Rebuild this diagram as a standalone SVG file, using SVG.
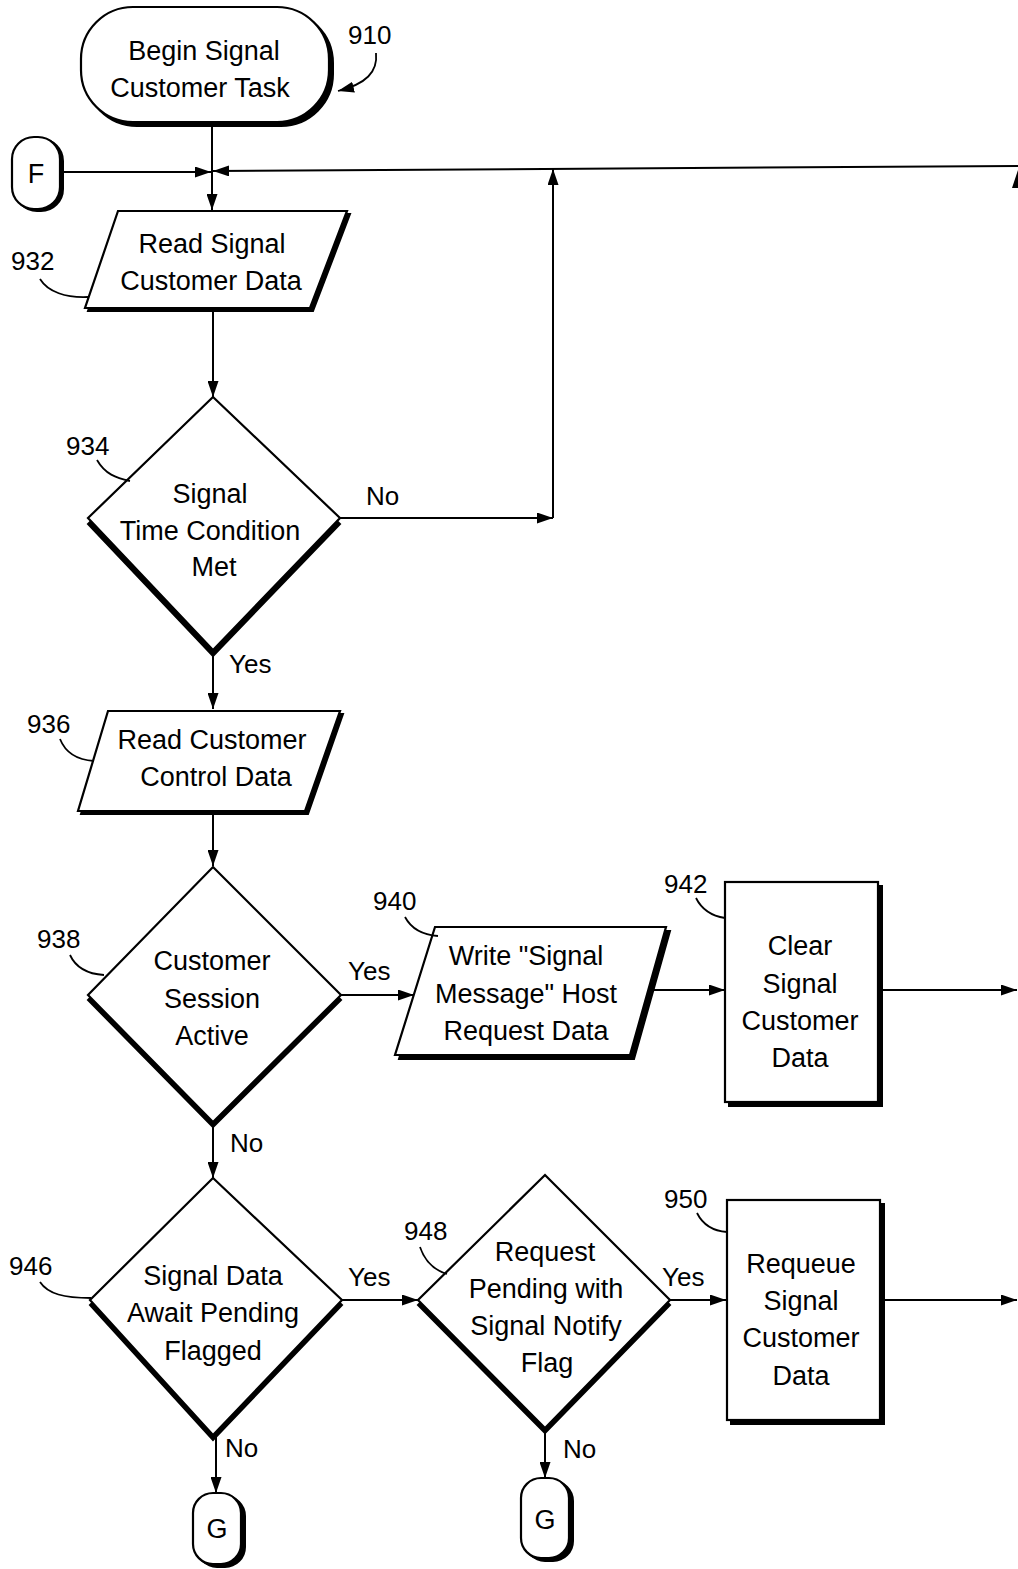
<svg xmlns="http://www.w3.org/2000/svg" width="1018" height="1569" viewBox="0 0 1018 1569">
<style>
.t{font-family:"Liberation Sans",Arial,sans-serif;font-size:27px;fill:#000;text-anchor:middle}
.lb{font-family:"Liberation Sans",Arial,sans-serif;font-size:26px;fill:#000}
.sh{fill:#000;stroke:#000;stroke-width:2}
.nd{fill:#fff;stroke:#000;stroke-width:2.2}
.ln{fill:none;stroke:#000;stroke-width:2}
.ld{fill:none;stroke:#000;stroke-width:1.8}
</style>
<defs>
<marker id="ah" viewBox="0 0 16 11" refX="16" refY="5.5" markerWidth="16" markerHeight="11" markerUnits="userSpaceOnUse" orient="auto">
<path d="M0,0 L16,5.5 L0,11 Z" fill="#000"/>
</marker>
</defs>
<rect width="1018" height="1569" fill="#fff"/>

<g id="connectors">
<line class="ln" x1="212" y1="123" x2="212" y2="210" marker-end="url(#ah)"/>
<line class="ln" x1="62" y1="172" x2="211" y2="172" marker-end="url(#ah)"/>
<line class="ln" x1="1018" y1="166" x2="213" y2="171" marker-end="url(#ah)"/>
<line class="ln" x1="213" y1="308" x2="213" y2="397" marker-end="url(#ah)"/>
<line class="ln" x1="340" y1="518" x2="553" y2="518" marker-end="url(#ah)"/>
<line class="ln" x1="553" y1="518" x2="553" y2="169" marker-end="url(#ah)"/>
<line class="ln" x1="213" y1="652" x2="213" y2="709" marker-end="url(#ah)"/>
<line class="ln" x1="213" y1="812" x2="213" y2="866" marker-end="url(#ah)"/>
<line class="ln" x1="341" y1="995" x2="414" y2="995" marker-end="url(#ah)"/>
<line class="ln" x1="645" y1="990" x2="725" y2="990" marker-end="url(#ah)"/>
<line class="ln" x1="881" y1="990" x2="1017" y2="990" marker-end="url(#ah)"/>
<line class="ln" x1="213" y1="1123" x2="213" y2="1178" marker-end="url(#ah)"/>
<line class="ln" x1="342" y1="1300" x2="418" y2="1300" marker-end="url(#ah)"/>
<line class="ln" x1="670" y1="1300" x2="726" y2="1300" marker-end="url(#ah)"/>
<line class="ln" x1="883" y1="1300" x2="1017" y2="1300" marker-end="url(#ah)"/>
<line class="ln" x1="216" y1="1436" x2="216" y2="1493" marker-end="url(#ah)"/>
<line class="ln" x1="545" y1="1429" x2="545" y2="1478" marker-end="url(#ah)"/>
<path d="M1018,170 L1012,188 L1018,188 Z" fill="#000"/>
<text class="lb" x="366" y="505">No</text>
<text class="lb" x="229" y="673">Yes</text>
<text class="lb" x="348" y="980">Yes</text>
<text class="lb" x="230" y="1152">No</text>
<text class="lb" x="348" y="1286">Yes</text>
<text class="lb" x="662" y="1286">Yes</text>
<text class="lb" x="225" y="1457">No</text>
<text class="lb" x="563" y="1458">No</text>
</g>

<g id="n910">
<rect class="sh" x="85" y="11" width="248" height="115" rx="52"/>
<rect class="nd" x="81" y="7" width="248" height="115" rx="52"/>
<text class="t" x="204" y="60">Begin Signal</text>
<text class="t" x="200" y="97">Customer Task</text>
<text class="lb" x="348" y="44">910</text>
<path class="ld" d="M376,53 C378,72 366,84 338,91" marker-end="url(#ah)"/>
</g>

<g id="nF">
<rect class="sh" x="15" y="139" width="48" height="72" rx="22"/>
<rect class="nd" x="12" y="137" width="48" height="72" rx="22"/>
<text class="t" x="36" y="183">F</text>
</g>

<g id="n932">
<path class="sh" d="M121,214 L350,214 L313,311 L88,311 Z"/>
<path class="nd" d="M118,211 L347,211 L310,308 L85,308 Z"/>
<text class="t" x="212" y="253">Read Signal</text>
<text class="t" x="211" y="290">Customer Data</text>
<text class="lb" x="11" y="270">932</text>
<path class="ld" d="M40,279 C48,292 66,298 88,297"/>
</g>

<g id="n934">
<path class="sh" d="M213,401 L340,524 L213,656 L88,524 Z"/>
<path class="nd" d="M213,397 L340,518 L213,650 L88,518 Z"/>
<text class="t" x="210" y="503">Signal</text>
<text class="t" x="210" y="540">Time Condition</text>
<text class="t" x="214" y="576">Met</text>
<text class="lb" x="66" y="455">934</text>
<path class="ld" d="M97,460 C105,474 116,478 130,481"/>
</g>

<g id="n936">
<path class="sh" d="M111,714 L343,714 L308,814 L81,814 Z"/>
<path class="nd" d="M108,711 L340,711 L305,811 L78,811 Z"/>
<text class="t" x="212" y="749">Read Customer</text>
<text class="t" x="216" y="786">Control Data</text>
<text class="lb" x="27" y="733">936</text>
<path class="ld" d="M60,739 C66,754 78,760 94,761"/>
</g>

<g id="n938">
<path class="sh" d="M213,871 L341,1000 L213,1127 L88,1000 Z"/>
<path class="nd" d="M213,867 L341,995 L213,1122 L88,995 Z"/>
<text class="t" x="212" y="970">Customer</text>
<text class="t" x="212" y="1008">Session</text>
<text class="t" x="212" y="1045">Active</text>
<text class="lb" x="37" y="948">938</text>
<path class="ld" d="M70,955 C76,968 88,974 104,975"/>
</g>

<g id="n940">
<path class="sh" d="M439,931 L670,931 L634,1059 L399,1059 Z"/>
<path class="nd" d="M435,927 L666,927 L630,1055 L395,1055 Z"/>
<text class="t" x="526" y="965">Write "Signal</text>
<text class="t" x="526" y="1003">Message" Host</text>
<text class="t" x="526" y="1040">Request Data</text>
<text class="lb" x="373" y="910">940</text>
<path class="ld" d="M405,917 C412,930 424,935 438,936"/>
</g>

<g id="n942">
<rect class="sh" x="729" y="886" width="153" height="220"/>
<rect class="nd" x="725" y="882" width="153" height="220"/>
<text class="t" x="800" y="955">Clear</text>
<text class="t" x="800" y="993">Signal</text>
<text class="t" x="800" y="1030">Customer</text>
<text class="t" x="800" y="1067">Data</text>
<text class="lb" x="664" y="893">942</text>
<path class="ld" d="M696,898 C702,910 712,916 725,918"/>
</g>

<g id="n946">
<path class="sh" d="M213,1183 L342,1305 L213,1440 L90,1305 Z"/>
<path class="nd" d="M213,1178 L342,1300 L213,1435 L90,1300 Z"/>
<text class="t" x="213" y="1285">Signal Data</text>
<text class="t" x="213" y="1322">Await Pending</text>
<text class="t" x="213" y="1360">Flagged</text>
<text class="lb" x="9" y="1275">946</text>
<path class="ld" d="M40,1282 C48,1294 64,1298 91,1298"/>
</g>

<g id="n948">
<path class="sh" d="M545,1180 L670,1305 L545,1433 L418,1305 Z"/>
<path class="nd" d="M545,1175 L670,1300 L545,1428 L418,1300 Z"/>
<text class="t" x="545" y="1261">Request</text>
<text class="t" x="546" y="1298">Pending with</text>
<text class="t" x="546" y="1335">Signal Notify</text>
<text class="t" x="547" y="1372">Flag</text>
<text class="lb" x="404" y="1240">948</text>
<path class="ld" d="M420,1247 C425,1262 434,1270 447,1274"/>
</g>

<g id="n950">
<rect class="sh" x="731" y="1204" width="153" height="220"/>
<rect class="nd" x="727" y="1200" width="153" height="220"/>
<text class="t" x="801" y="1273">Requeue</text>
<text class="t" x="801" y="1310">Signal</text>
<text class="t" x="801" y="1347">Customer</text>
<text class="t" x="801" y="1385">Data</text>
<text class="lb" x="664" y="1208">950</text>
<path class="ld" d="M697,1213 C703,1225 713,1231 727,1232"/>
</g>

<g id="nG1">
<rect class="sh" x="197" y="1496" width="48" height="71" rx="20"/>
<rect class="nd" x="193" y="1493" width="48" height="71" rx="20"/>
<text class="t" x="217" y="1538">G</text>
</g>

<g id="nG2">
<rect class="sh" x="525" y="1481" width="48" height="80" rx="20"/>
<rect class="nd" x="521" y="1478" width="48" height="80" rx="20"/>
<text class="t" x="545" y="1529">G</text>
</g>
</svg>
